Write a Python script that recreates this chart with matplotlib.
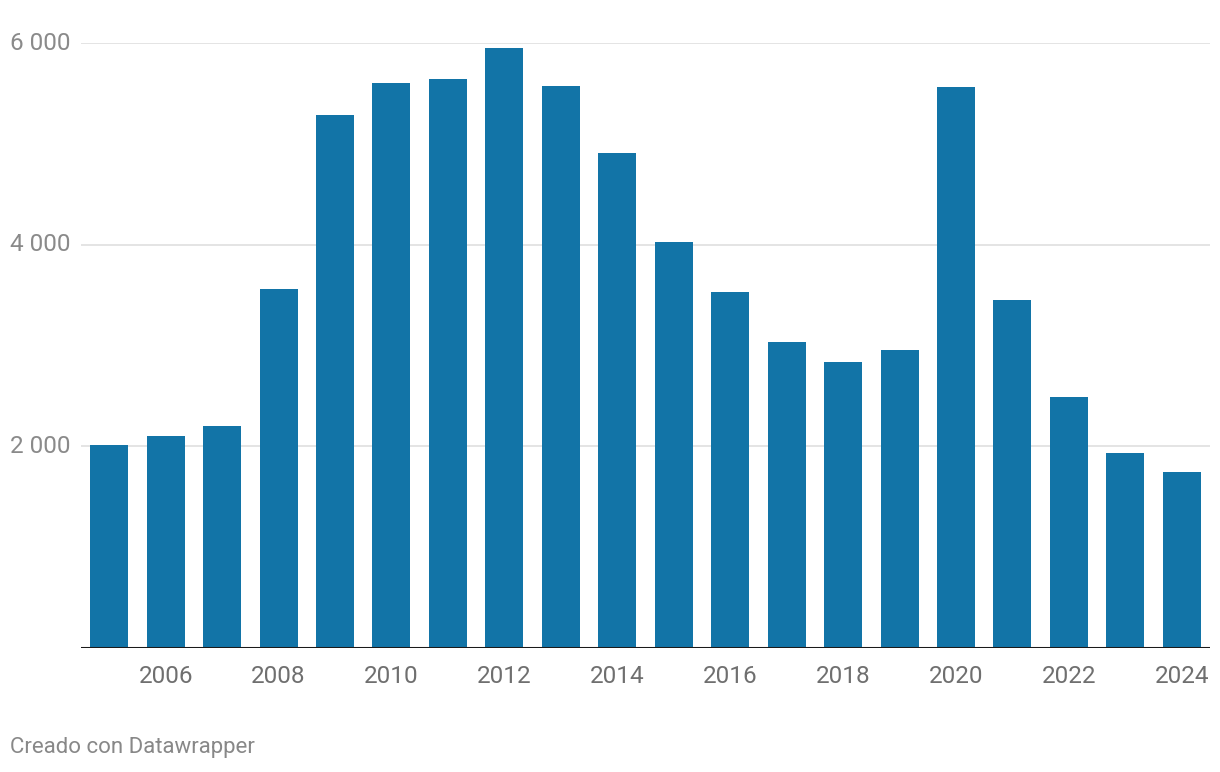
import matplotlib
matplotlib.use("Agg")
import matplotlib.pyplot as plt
import numpy as np

plt.rcParams['font.family'] = ['Roboto', 'DejaVu Sans']

years = [2005, 2006, 2007, 2008, 2009, 2010, 2011, 2012, 2013, 2014,
         2015, 2016, 2017, 2018, 2019, 2020, 2021, 2022, 2023, 2024]
values = [2010, 2100, 2200, 3560, 5290, 5600, 5640, 5950, 5570, 4910,
          4030, 3530, 3035, 2835, 2955, 5565, 3450, 2490, 1935, 1745]
yticks = [2000, 4000, 6000]
ytick_labels = ['2 000', '4 000', '6 000']

fig = plt.figure(figsize=(12.2, 7.72), dpi=100)
ax = fig.add_axes([81 / 1220, 124 / 772, (1210 - 81) / 1220, (648 - 43) / 772])

x = np.arange(len(years))
ax.bar(x, values, width=0.673, color='#1274a7', zorder=2)

ax.set_xlim(-0.5, len(years) - 0.5)
ax.set_ylim(0, 6000)

# grid
for t in yticks:
    ax.axhline(t, color='#e2e2e2', lw=1.3, zorder=1)
ax.set_yticks([])
ax.axhline(0, color='#1a1a1a', lw=2.2, zorder=3)

# y labels at the left edge of the figure
for t, lab in zip(yticks, ytick_labels):
    ax.annotate(lab, xy=(0, t), xycoords=('figure fraction', 'data'),
                xytext=(10, 0), textcoords='offset pixels',
                ha='left', va='center', fontsize=17.5, color='#8a8a8a')

even = [i for i, y in enumerate(years) if y % 2 == 0]
ax.set_xticks(even)
ax.set_xticklabels([str(years[i]) for i in even], fontsize=17.5, color='#6f6f6f')
ax.tick_params(axis='x', length=0, pad=12)

for s in ax.spines.values():
    s.set_visible(False)

fig.text(10 / 1220, 1 - 748 / 772, 'Creado con Datawrapper', ha='left', va='center',
         fontsize=16, color='#888888')

fig.savefig('out.png', dpi=100)
